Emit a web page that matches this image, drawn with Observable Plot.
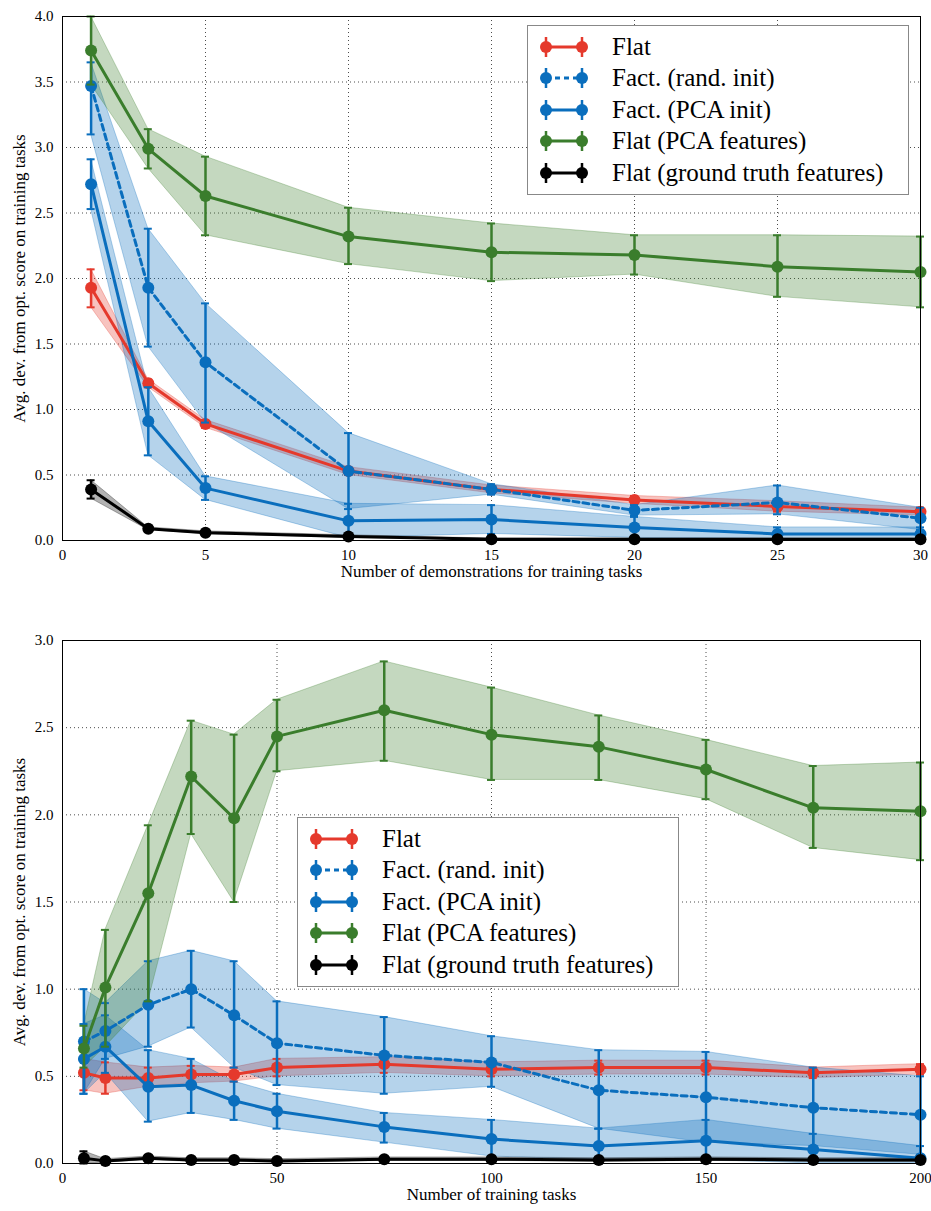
<!DOCTYPE html>
<html>
<head>
<meta charset="utf-8">
<script src="https://cdn.jsdelivr.net/npm/d3@7"></script>
<script src="https://cdn.jsdelivr.net/npm/@observablehq/plot@0.6"></script>
<style>
  body { margin: 0; background: #fff; font-family: "Liberation Serif", serif; }
  .wrap { position: relative; width: 931px; }
  .legend { position: absolute; background: #fff; border: 1px solid #888; padding: 5px 10px; font-family: "Liberation Serif", "DejaVu Serif", serif; font-size: 25px; box-sizing: border-box; }
  .legend div { display: flex; align-items: center; height: 31.5px; }
  .legend svg { margin-right: 22px; }
</style>
</head>
<body>
<div class="wrap" id="top"></div>
<div class="wrap" id="bottom"></div>
<script>
// ---- top chart: number of demonstrations ----
const demoX = [1, 3, 5, 10, 15, 20, 25, 30];
const demoFlat = [1.93, 1.20, 0.89, 0.53, 0.39, 0.31, 0.26, 0.22];
const demoFlatLo = [1.78, 1.17, 0.86, 0.50, 0.36, 0.28, 0.22, 0.19];
const demoFlatHi = [2.07, 1.23, 0.92, 0.56, 0.42, 0.34, 0.30, 0.25];
const demoRand = [3.47, 1.93, 1.36, 0.53, 0.39, 0.23, 0.29, 0.17];
const demoRandLo = [3.10, 1.48, 0.90, 0.24, 0.35, 0.19, 0.20, 0.08];
const demoRandHi = [3.65, 2.38, 1.81, 0.82, 0.43, 0.27, 0.42, 0.25];
const demoPca = [2.72, 0.91, 0.40, 0.15, 0.16, 0.10, 0.05, 0.05];
const demoPcaLo = [2.53, 0.65, 0.31, 0.02, 0.05, 0.02, 0.01, 0.01];
const demoPcaHi = [2.91, 1.17, 0.49, 0.28, 0.27, 0.18, 0.10, 0.10];
const demoFeat = [3.74, 2.99, 2.63, 2.32, 2.20, 2.18, 2.09, 2.05];
const demoFeatLo = [3.48, 2.84, 2.33, 2.11, 1.98, 2.03, 1.86, 1.78];
const demoFeatHi = [4.00, 3.14, 2.93, 2.54, 2.42, 2.33, 2.33, 2.32];
const demoGt = [0.39, 0.09, 0.06, 0.03, 0.01, 0.01, 0.01, 0.01];
const demoGtLo = [0.32, 0.08, 0.05, 0.02, 0.005, 0.005, 0.005, 0.005];
const demoGtHi = [0.46, 0.10, 0.07, 0.04, 0.015, 0.015, 0.015, 0.015];

// ---- bottom chart: number of training tasks ----
const taskX = [5, 10, 20, 30, 40, 50, 75, 100, 125, 150, 175, 200];
const taskFlat = [0.52, 0.49, 0.49, 0.51, 0.51, 0.55, 0.57, 0.54, 0.55, 0.55, 0.52, 0.54];
const taskFlatLo = [0.42, 0.40, 0.44, 0.46, 0.47, 0.50, 0.52, 0.50, 0.51, 0.51, 0.49, 0.51];
const taskFlatHi = [0.60, 0.58, 0.55, 0.56, 0.55, 0.60, 0.61, 0.58, 0.59, 0.59, 0.55, 0.57];
const taskRand = [0.70, 0.76, 0.91, 1.00, 0.85, 0.69, 0.62, 0.58, 0.42, 0.38, 0.32, 0.28];
const taskRandLo = [0.40, 0.60, 0.67, 0.78, 0.55, 0.45, 0.40, 0.44, 0.20, 0.12, 0.10, 0.05];
const taskRandHi = [1.00, 0.92, 1.16, 1.22, 1.16, 0.93, 0.84, 0.73, 0.65, 0.64, 0.55, 0.50];
const taskPca = [0.60, 0.67, 0.44, 0.45, 0.36, 0.30, 0.21, 0.14, 0.10, 0.13, 0.08, 0.03];
const taskPcaLo = [0.40, 0.52, 0.24, 0.29, 0.25, 0.20, 0.12, 0.04, 0.02, 0.02, 0.00, 0.00];
const taskPcaHi = [0.80, 0.85, 0.65, 0.60, 0.47, 0.40, 0.29, 0.25, 0.20, 0.25, 0.17, 0.10];
const taskFeat = [0.66, 1.01, 1.55, 2.22, 1.98, 2.45, 2.60, 2.46, 2.39, 2.26, 2.04, 2.02];
const taskFeatLo = [0.55, 0.67, 0.93, 1.89, 1.50, 2.25, 2.31, 2.20, 2.20, 2.09, 1.81, 1.74];
const taskFeatHi = [0.79, 1.34, 1.94, 2.54, 2.46, 2.66, 2.88, 2.73, 2.57, 2.43, 2.28, 2.30];
const taskGt = [0.03, 0.015, 0.03, 0.02, 0.02, 0.015, 0.025, 0.025, 0.02, 0.025, 0.02, 0.02];
const taskGtLo = [0.00, 0.005, 0.02, 0.01, 0.01, 0.005, 0.015, 0.015, 0.01, 0.015, 0.01, 0.01];
const taskGtHi = [0.07, 0.025, 0.04, 0.03, 0.03, 0.025, 0.035, 0.035, 0.03, 0.035, 0.03, 0.03];

const names = ["Flat", "Fact. (rand. init)", "Fact. (PCA init)", "Flat (PCA features)", "Flat (ground truth features)"];
const colors = ["#e5392c", "#0a6ebd", "#0a6ebd", "#3a7d2c", "#000000"];
const dashes = [null, "6,4", null, null, null];

function rows(xs, m, lo, hi) {
  return xs.map((x, i) => ({x, y: m[i], lo: lo[i], hi: hi[i]}));
}

function chart(el, xs, series, opt) {
  const marks = [];
  const xTicks = opt.xTicks, yTicks = opt.yTicks;
  marks.push(Plot.ruleX(xTicks, {stroke: "#000", strokeOpacity: 0.7, strokeDasharray: "1,3"}));
  marks.push(Plot.ruleY(yTicks, {stroke: "#000", strokeOpacity: 0.7, strokeDasharray: "1,3"}));
  series.forEach((s, k) => {
    const d = rows(xs, ...s);
    marks.push(Plot.areaY(d, {x: "x", y1: "lo", y2: "hi", fill: colors[k], fillOpacity: 0.3,
      stroke: colors[k], strokeOpacity: 0.3, strokeWidth: 1}));
  });
  series.forEach((s, k) => {
    const d = rows(xs, ...s);
    marks.push(Plot.ruleX(d, {x: "x", y1: "lo", y2: "hi", stroke: colors[k], strokeWidth: 2.5}));
    marks.push(Plot.ruleY(d, {y: "lo", x1: r => r.x - opt.cap, x2: r => r.x + opt.cap, stroke: colors[k], strokeWidth: 2}));
    marks.push(Plot.ruleY(d, {y: "hi", x1: r => r.x - opt.cap, x2: r => r.x + opt.cap, stroke: colors[k], strokeWidth: 2}));
    marks.push(Plot.line(d, {x: "x", y: "y", stroke: colors[k], strokeWidth: 3, strokeDasharray: dashes[k]}));
    marks.push(Plot.dot(d, {x: "x", y: "y", r: 6, fill: colors[k]}));
  });
  marks.push(Plot.frame({stroke: "#000"}));
  const p = Plot.plot({
    width: 931, height: opt.height,
    marginLeft: 62, marginRight: 11, marginTop: opt.mt, marginBottom: opt.mb,
    x: {domain: opt.xDomain, ticks: xTicks, tickSize: 0, label: opt.xLabel, labelAnchor: "center", labelArrow: "none", labelOffset: 36},
    y: {domain: opt.yDomain, ticks: yTicks, tickSize: 0, tickFormat: d3.format(".1f"), label: "Avg. dev. from opt. score on training tasks",
        labelAnchor: "center", labelArrow: "none", labelOffset: 50},
    style: {fontFamily: "Liberation Serif, serif", fontSize: "15px", color: "#000", overflow: "visible"},
    marks
  });
  p.querySelectorAll("g[aria-label='x-axis label'] text, g[aria-label='y-axis label'] text").forEach(t => t.style.fontSize = "17px");
  el.appendChild(p);
  // legend
  const lg = document.createElement("div");
  lg.className = "legend";
  lg.style.left = opt.lx + "px"; lg.style.top = opt.ly + "px"; lg.style.width = opt.lw + "px";
  names.forEach((n, k) => {
    const c = colors[k];
    const da = dashes[k] ? `stroke-dasharray="5,4"` : "";
    lg.insertAdjacentHTML("beforeend", `<div><svg width="52" height="24">
      <line x1="8" x2="44" y1="12" y2="12" stroke="${c}" stroke-width="3" ${da}/>
      <line x1="8" x2="8" y1="2" y2="22" stroke="${c}" stroke-width="2.5"/>
      <line x1="44" x2="44" y1="2" y2="22" stroke="${c}" stroke-width="2.5"/>
      <circle cx="8" cy="12" r="6" fill="${c}"/><circle cx="44" cy="12" r="6" fill="${c}"/>
      </svg><span>${n}</span></div>`);
  });
  el.appendChild(lg);
}

chart(document.getElementById("top"), demoX, [
  [demoFlat, demoFlatLo, demoFlatHi],
  [demoRand, demoRandLo, demoRandHi],
  [demoPca, demoPcaLo, demoPcaHi],
  [demoFeat, demoFeatLo, demoFeatHi],
  [demoGt, demoGtLo, demoGtHi]
], {height: 610, mt: 16, mb: 70, xDomain: [0, 30], yDomain: [0, 4], cap: 0.14,
    xTicks: [0, 5, 10, 15, 20, 25, 30], yTicks: d3.range(0, 4.01, 0.5),
    xLabel: "Number of demonstrations for training tasks", lx: 527, ly: 25, lw: 382});

chart(document.getElementById("bottom"), taskX, [
  [taskFlat, taskFlatLo, taskFlatHi],
  [taskRand, taskRandLo, taskRandHi],
  [taskPca, taskPcaLo, taskPcaHi],
  [taskFeat, taskFeatLo, taskFeatHi],
  [taskGt, taskGtLo, taskGtHi]
], {height: 601, mt: 30, mb: 48, xDomain: [0, 200], yDomain: [0, 3], cap: 0.93,
    xTicks: [0, 50, 100, 150, 200], yTicks: d3.range(0, 3.01, 0.5),
    xLabel: "Number of training tasks", lx: 297, ly: 207, lw: 382});
</script>
</body>
</html>
